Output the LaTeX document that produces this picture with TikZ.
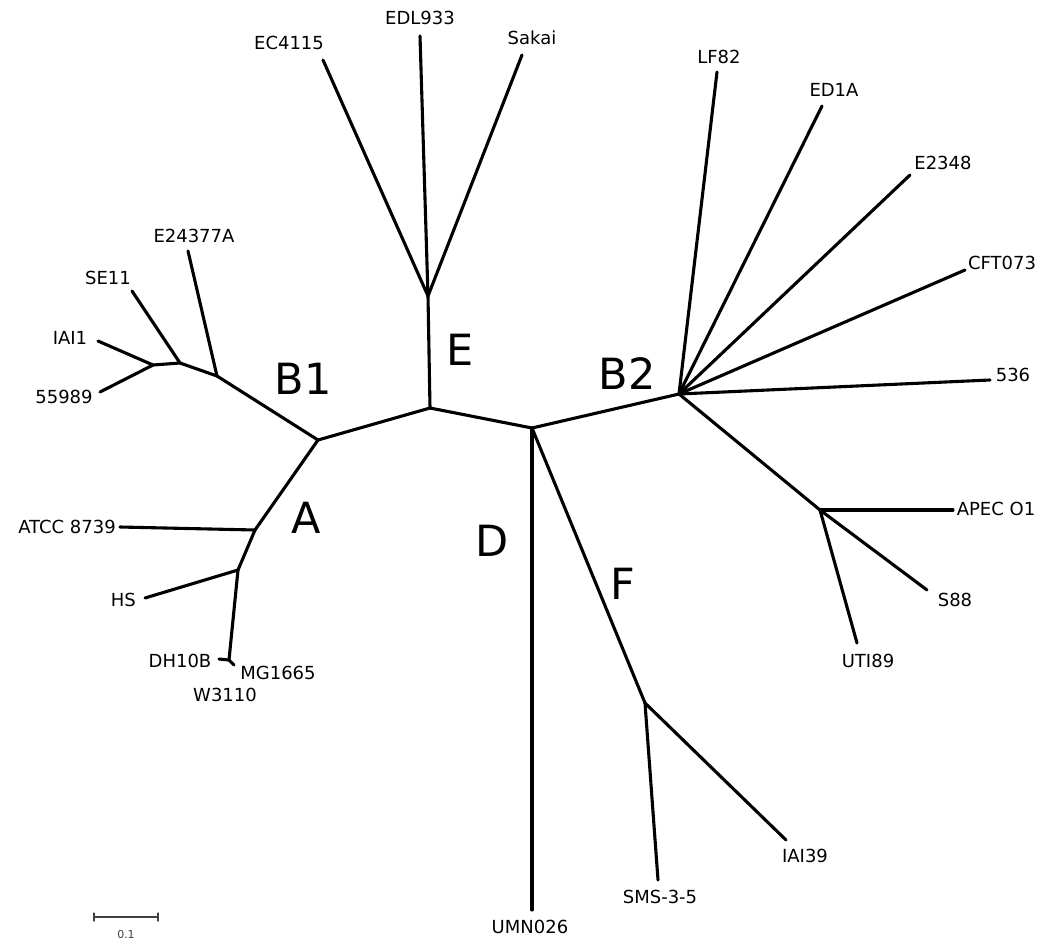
\documentclass[tikz,border=0pt]{standalone}
\usepackage{fontspec}
\setmainfont{DejaVu Sans}
\begin{document}
\begin{tikzpicture}[line cap=round,line join=round,x=1pt,y=-1pt,
	branch/.style={line width=3.1pt},
	leaf/.style={font=\fontsize{18}{20}\selectfont,inner sep=1pt},
	clade/.style={font=\fontsize{43}{46}\selectfont,inner sep=0pt}]
	\useasboundingbox (0,0) rectangle (1038,940);
	% Inner nodes
	\coordinate (nA) at (318,440);
	\coordinate (nE) at (430,408);
	\coordinate (nD) at (532,428);
	\coordinate (nB2) at (679,394);
	\coordinate (nEtop) at (428,296);
	\coordinate (nB1) at (217,376);
	\coordinate (nSE) at (180,363);
	\coordinate (nIAI) at (153,365);
	\coordinate (nATCC) at (255,530);
	\coordinate (nHS) at (238,570);
	\coordinate (nK12) at (229,660);
	\coordinate (nAPEC) at (820,510);
	\coordinate (nF) at (645,703);
	% Leaf tips
	\coordinate (tEC) at (323,60);
	\coordinate (tEDL) at (420,36);
	\coordinate (tSak) at (522,55);
	\coordinate (tE24) at (188,251);
	\coordinate (tSE) at (132,291);
	\coordinate (tIAI1) at (98,341);
	\coordinate (t559) at (100,392);
	\coordinate (tATCC) at (120,527);
	\coordinate (tHS) at (145,598);
	\coordinate (tDH) at (219,659);
	\coordinate (tMG) at (234,665);
	\coordinate (tLF) at (717,72);
	\coordinate (tED1) at (822,106);
	\coordinate (tE23) at (910,175);
	\coordinate (tCFT) at (965,270);
	\coordinate (t536) at (990,380);
	\coordinate (tAPEC) at (953,510);
	\coordinate (tS88) at (927,590);
	\coordinate (tUTI) at (857,643);
	\coordinate (tUMN) at (532,910);
	\coordinate (tSMS) at (658,880);
	\coordinate (tIAI39) at (786,840);
	% Backbone and branches
	\foreach \a/\b in {nA/nE, nE/nD, nD/nB2, nE/nEtop, nA/nB1, nB1/nSE, nSE/nIAI,
		nA/nATCC, nATCC/nHS, nHS/nK12, nB2/nAPEC, nD/nF}
		\draw[branch] (\a) -- (\b);
	\foreach \a/\b in {nEtop/tEC, nEtop/tEDL, nEtop/tSak, nB1/tE24, nSE/tSE,
		nIAI/tIAI1, nIAI/t559, nATCC/tATCC, nHS/tHS, nK12/tDH, nK12/tMG,
		nB2/tLF, nB2/tED1, nB2/tE23, nB2/tCFT, nB2/t536, nAPEC/tAPEC,
		nAPEC/tS88, nAPEC/tUTI, nD/tUMN, nF/tSMS, nF/tIAI39}
		\draw[branch] (\a) -- (\b);
	% Strain labels
	\node[leaf] (lEC) at (289,43) {EC4115};
	\node[leaf] (lEDL) at (420,18) {EDL933};
	\node[leaf] (lSak) at (532,38) {Sakai};
	\node[leaf] (lE24) at (194,236) {E24377A};
	\node[leaf] (lSE) at (108,278) {SE11};
	\node[leaf] (lIAI1) at (70,338) {IAI1};
	\node[leaf] (l559) at (64,397) {55989};
	\node[leaf,anchor=east] (lATCC) at (117,527) {ATCC 8739};
	\node[leaf,anchor=east] (lHS) at (137,600) {HS};
	\node[leaf] (lDH) at (180,661) {DH10B};
	\node[leaf] (lMG) at (278,673) {MG1665};
	\node[leaf] (lW) at (225,695) {W3110};
	\node[leaf] (lLF) at (719,57) {LF82};
	\node[leaf] (lED1) at (834,90) {ED1A};
	\node[leaf] (lE23) at (943,163) {E2348};
	\node[leaf] (lCFT) at (1002,263) {CFT073};
	\node[leaf] (l536) at (1013,375) {536};
	\node[leaf] (lAPEC) at (996,509) {APEC O1};
	\node[leaf] (lS88) at (955,600) {S88};
	\node[leaf] (lUTI) at (868,661) {UTI89};
	\node[leaf] (lUMN) at (530,927) {UMN026};
	\node[leaf] (lSMS) at (660,897) {SMS-3-5};
	\node[leaf] (lIAI39) at (805,856) {IAI39};
	% Phylogroup labels
	\node[clade] (gB1) at (303,379) {B1};
	\node[clade] (gE) at (460,350) {E};
	\node[clade] (gB2) at (627,374) {B2};
	\node[clade] (gA) at (306,518) {A};
	\node[clade] (gD) at (492,541) {D};
	\node[clade] (gF) at (623,584) {F};
	% Scale bar
	\coordinate (s1) at (94,917);
	\coordinate (s2) at (158,917);
	\draw[line width=1.3pt,black!75] (s1) -- (s2);
	\draw[line width=1.3pt,black!75] ([yshift=-4pt]s1) -- ([yshift=4pt]s1);
	\draw[line width=1.3pt,black!75] ([yshift=-4pt]s2) -- ([yshift=4pt]s2);
	\node[font=\fontsize{11}{12}\selectfont,black!75] (sLab) at (126,934) {0.1};
\end{tikzpicture}
\end{document}
